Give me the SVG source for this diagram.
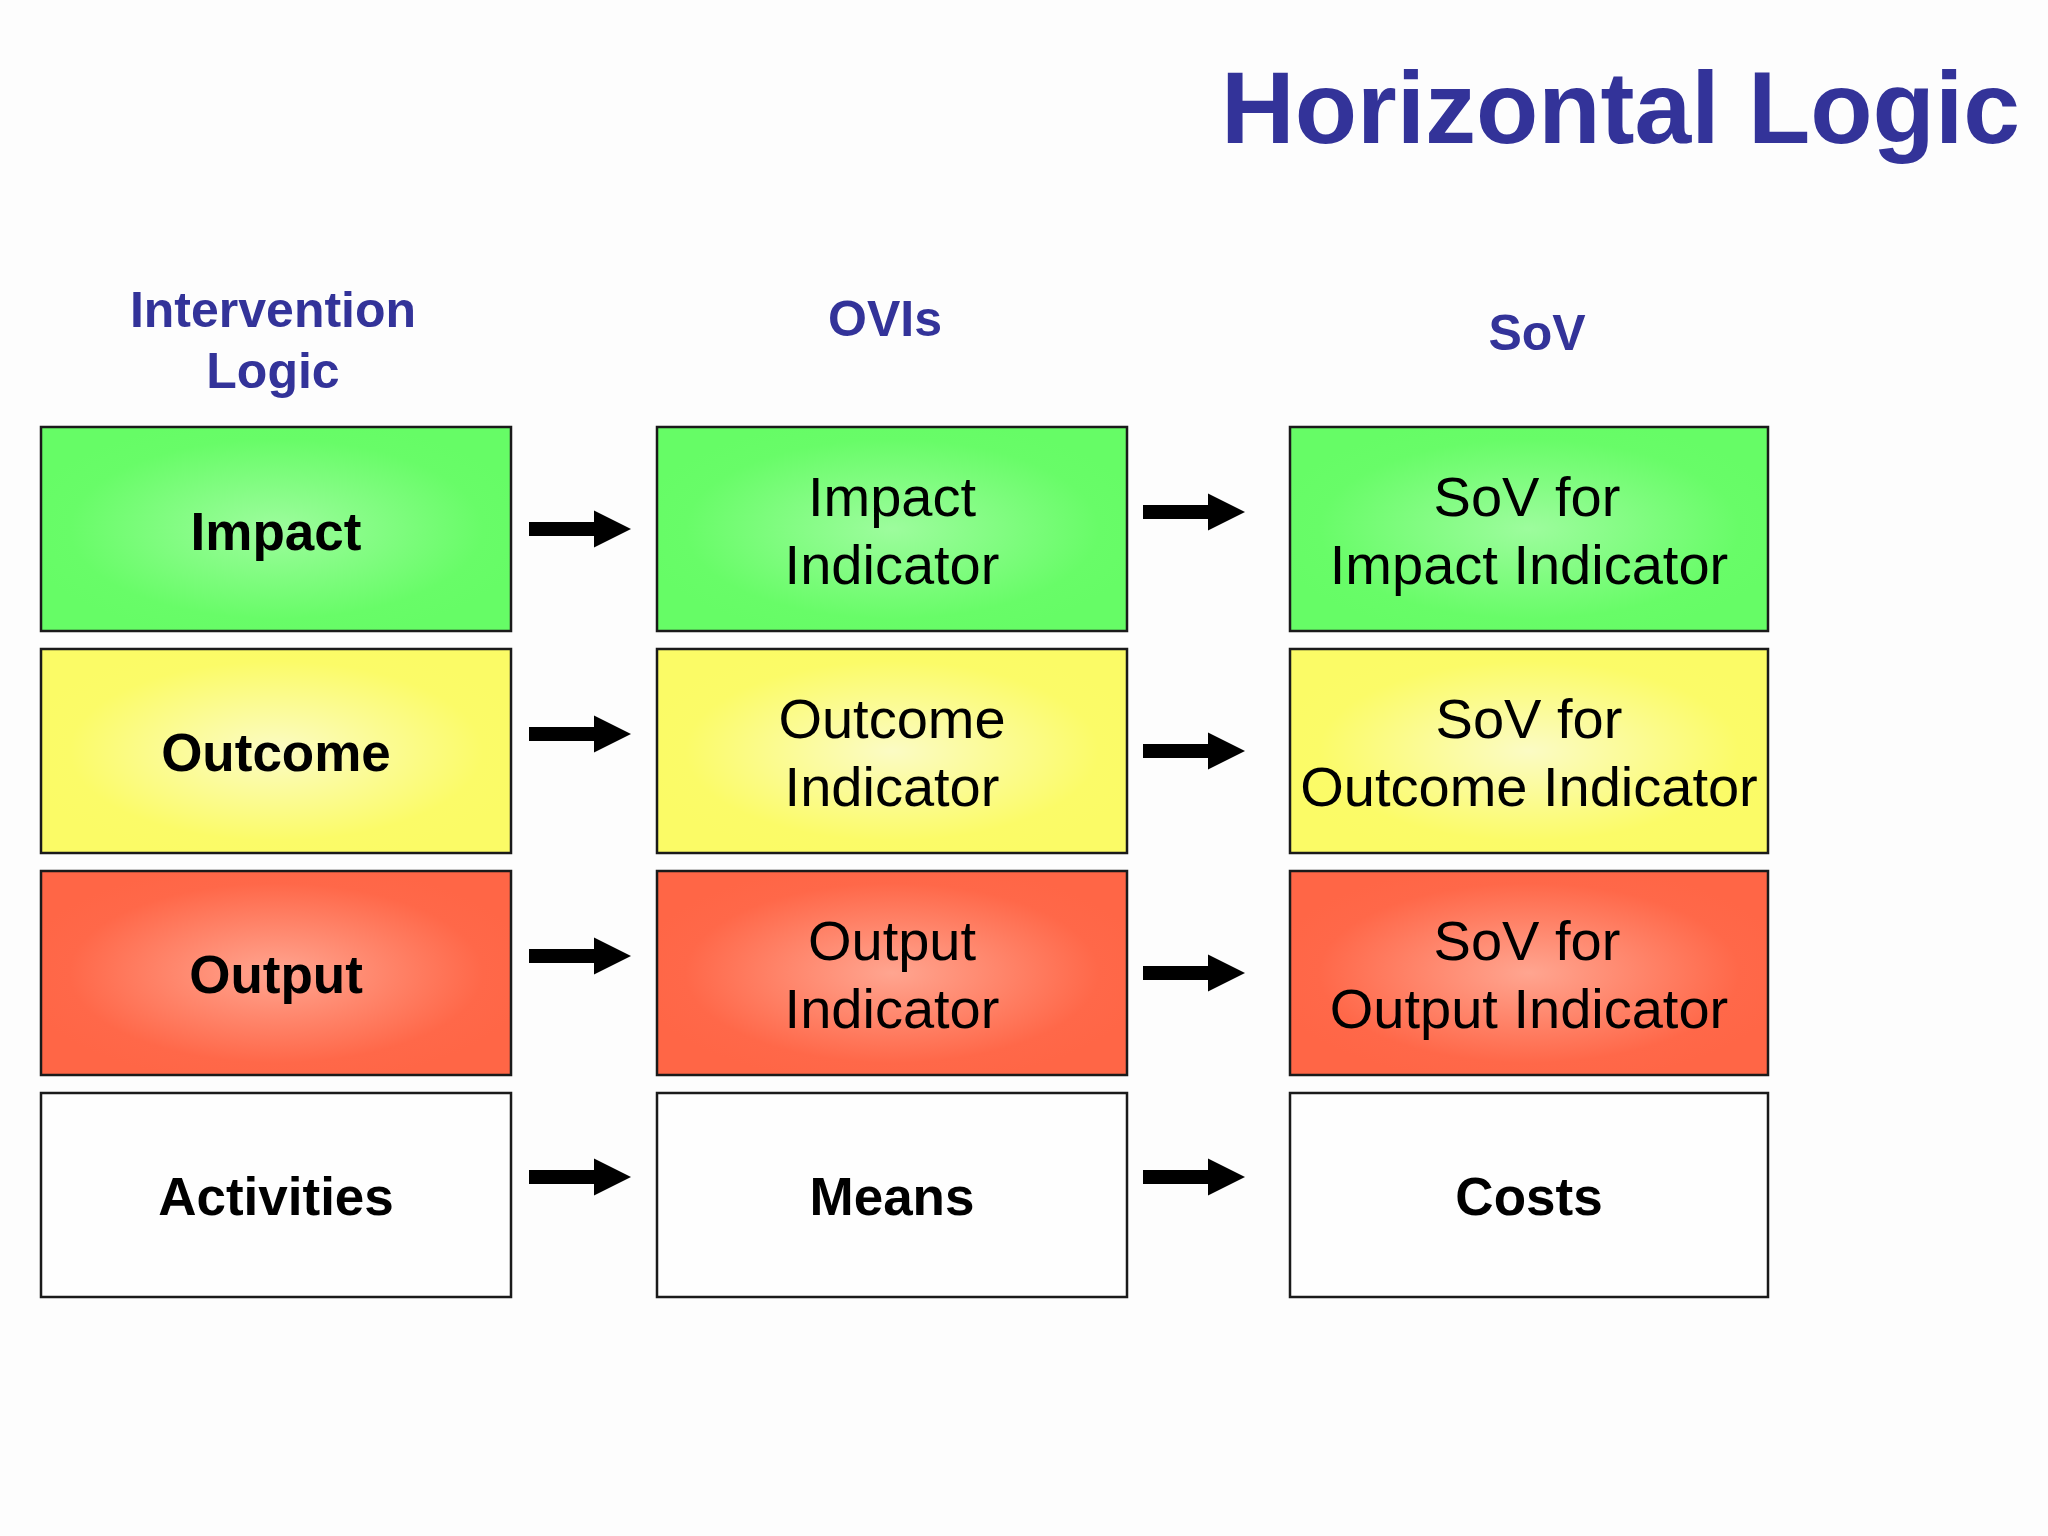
<svg xmlns="http://www.w3.org/2000/svg" xmlns:xlink="http://www.w3.org/1999/xlink" width="2048" height="1536" viewBox="0 0 2048 1536">
<style>
.hdr{font-family:"Liberation Sans",Arial,sans-serif;font-weight:bold;fill:#333399;text-anchor:middle}
.title{font-family:"Liberation Sans",Arial,sans-serif;font-weight:bold;fill:#333399;font-size:102px}
.box{stroke:#1a1a1a;stroke-width:2.5}
.b{font-family:"Liberation Sans",Arial,sans-serif;font-weight:bold;font-size:53px;fill:#000;text-anchor:middle}
.r{font-family:"Liberation Sans",Arial,sans-serif;font-size:56px;fill:#000;text-anchor:middle}
.arrow{fill:#000}
</style>
<defs>
<radialGradient id="gGreen" cx="0.5" cy="0.5" r="0.55">
<stop offset="0" stop-color="#9dfc9d"/>
<stop offset="0.8" stop-color="#68fc68"/>
<stop offset="1" stop-color="#66fc66"/>
</radialGradient>
<radialGradient id="gYellow" cx="0.5" cy="0.5" r="0.55">
<stop offset="0" stop-color="#fbfbc4"/>
<stop offset="0.8" stop-color="#fbfb68"/>
<stop offset="1" stop-color="#fbfb66"/>
</radialGradient>
<radialGradient id="gRed" cx="0.5" cy="0.5" r="0.55">
<stop offset="0" stop-color="#ffa590"/>
<stop offset="0.8" stop-color="#ff6849"/>
<stop offset="1" stop-color="#ff6646"/>
</radialGradient>
<path id="arr" d="M0,-7 H65 V-18.5 L102,0 L65,18.5 V7 H0 Z"/>
</defs>
<rect width="2048" height="1536" fill="#fdfdfd"/>
<text class="title" x="1221" y="143">Horizontal Logic</text>
<g id="headers">
<text class="hdr" font-size="50" x="273" y="327">Intervention</text>
<text class="hdr" font-size="50" x="273" y="388">Logic</text>
<text class="hdr" font-size="50" x="885" y="336">OVIs</text>
<text class="hdr" font-size="50" x="1537" y="350">SoV</text>
</g>
<g id="connectors" class="arrow">
<use xlink:href="#arr" x="529" y="529"/>
<use xlink:href="#arr" x="1143" y="512"/>
<use xlink:href="#arr" x="529" y="734"/>
<use xlink:href="#arr" x="1143" y="751"/>
<use xlink:href="#arr" x="529" y="956"/>
<use xlink:href="#arr" x="1143" y="973"/>
<use xlink:href="#arr" x="529" y="1177"/>
<use xlink:href="#arr" x="1143" y="1177"/>
</g>
<g id="impact"><rect class="box" x="41" y="427" width="470" height="204" fill="url(#gGreen)"/><text class="b" x="276" y="550">Impact</text></g>
<g id="impact-indicator"><rect class="box" x="657" y="427" width="470" height="204" fill="url(#gGreen)"/><text class="r" x="892" y="516">Impact</text><text class="r" x="892" y="584">Indicator</text></g>
<g id="sov-impact"><rect class="box" x="1290" y="427" width="478" height="204" fill="url(#gGreen)"/><text class="r" x="1527" y="516">SoV for</text><text class="r" x="1529" y="584">Impact Indicator</text></g>

<g id="outcome"><rect class="box" x="41" y="649" width="470" height="204" fill="url(#gYellow)"/><text class="b" x="276" y="771">Outcome</text></g>
<g id="outcome-indicator"><rect class="box" x="657" y="649" width="470" height="204" fill="url(#gYellow)"/><text class="r" x="892" y="738">Outcome</text><text class="r" x="892" y="806">Indicator</text></g>
<g id="sov-outcome"><rect class="box" x="1290" y="649" width="478" height="204" fill="url(#gYellow)"/><text class="r" x="1529" y="738">SoV for</text><text class="r" x="1529" y="806">Outcome Indicator</text></g>

<g id="output"><rect class="box" x="41" y="871" width="470" height="204" fill="url(#gRed)"/><text class="b" x="276" y="993">Output</text></g>
<g id="output-indicator"><rect class="box" x="657" y="871" width="470" height="204" fill="url(#gRed)"/><text class="r" x="892" y="960">Output</text><text class="r" x="892" y="1028">Indicator</text></g>
<g id="sov-output"><rect class="box" x="1290" y="871" width="478" height="204" fill="url(#gRed)"/><text class="r" x="1527" y="960">SoV for</text><text class="r" x="1529" y="1028">Output Indicator</text></g>

<g id="activities"><rect class="box" x="41" y="1093" width="470" height="204" fill="#fefefe"/><text class="b" x="276" y="1215">Activities</text></g>
<g id="means"><rect class="box" x="657" y="1093" width="470" height="204" fill="#fefefe"/><text class="b" x="892" y="1215">Means</text></g>
<g id="costs"><rect class="box" x="1290" y="1093" width="478" height="204" fill="#fefefe"/><text class="b" x="1529" y="1215">Costs</text></g>
</svg>
